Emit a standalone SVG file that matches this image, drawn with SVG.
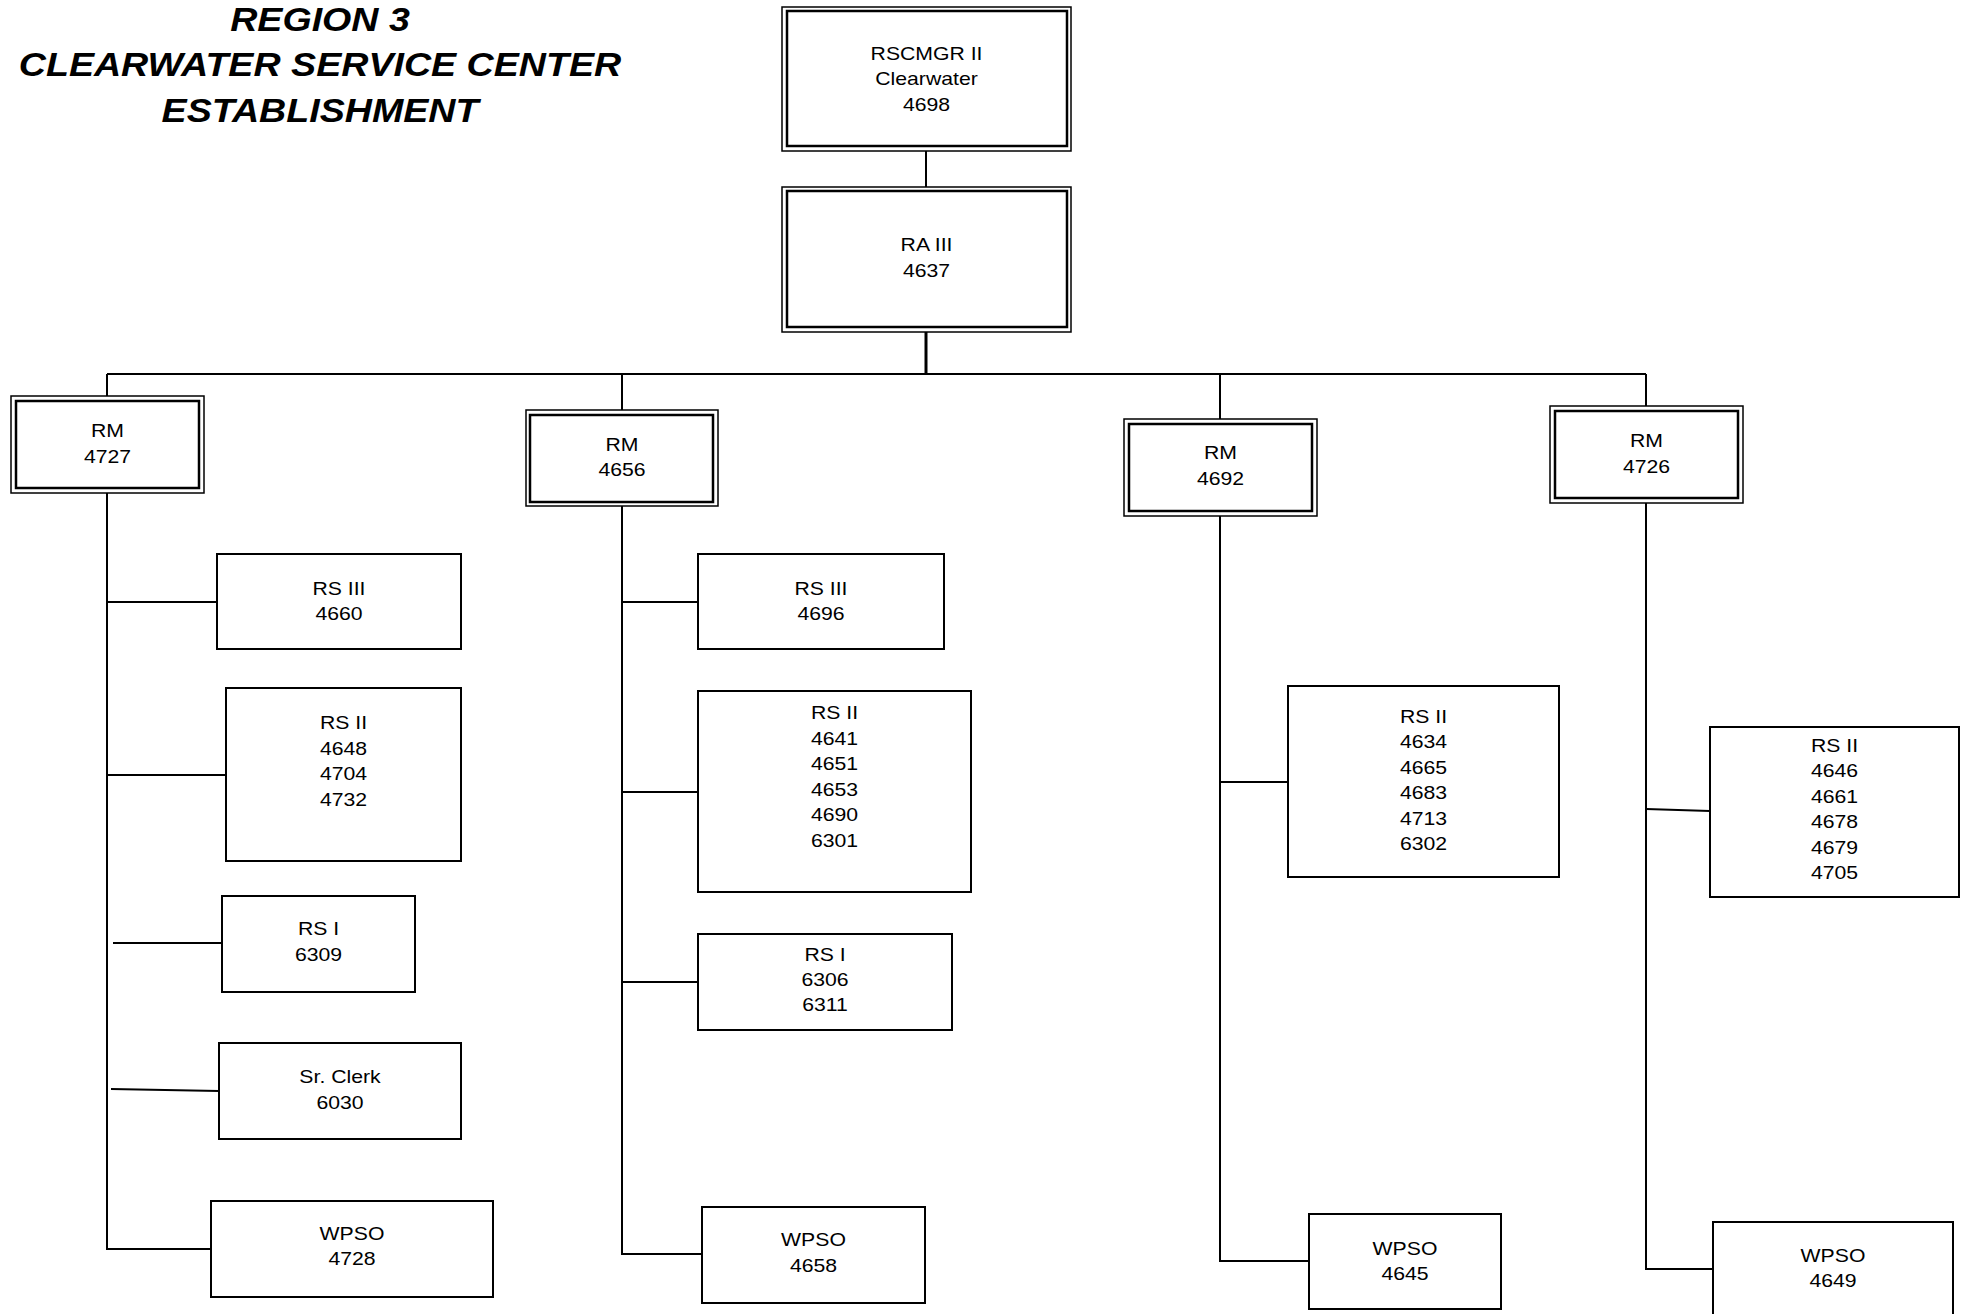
<svg xmlns="http://www.w3.org/2000/svg" width="1969" height="1314" viewBox="0 0 1969 1314">
  <style>
    .box { fill: #ffffff; stroke: #000000; stroke-width: 2; }
    .outer { fill: #ffffff; stroke: #000000; stroke-width: 1.5; }
    .inner { fill: none; stroke: #000000; stroke-width: 2.5; }
    .lbl { font-family: "Liberation Sans", Arial, sans-serif; font-size: 18.6px; fill: #000000; text-anchor: middle; }
    .title { font-family: "Liberation Sans", Arial, sans-serif; font-size: 33px; font-weight: bold; font-style: italic; fill: #000000; text-anchor: middle; }
    .conn { fill: none; stroke: #000000; stroke-width: 2; }
    .thick { stroke-width: 3; }
  </style>

  <rect width="1969" height="1314" fill="#ffffff"/>

  <!-- heading, slightly widened like the rest of the chart -->
  <g id="title" transform="translate(320 0) scale(1.14 1)">
    <text class="title" x="0" y="31">REGION 3</text>
    <text class="title" x="0" y="76">CLEARWATER SERVICE CENTER</text>
    <text class="title" x="0" y="122">ESTABLISHMENT</text>
  </g>

  <!-- reporting lines -->
  <g id="connectors">
    <line class="conn" x1="926" y1="151" x2="926" y2="187"/>
    <line class="conn thick" x1="926" y1="332" x2="926" y2="374"/>
    <line class="conn" x1="107" y1="374" x2="1646" y2="374"/>
    <line class="conn" x1="107" y1="374" x2="107" y2="396"/>
    <line class="conn" x1="622" y1="374" x2="622" y2="410"/>
    <line class="conn" x1="1220" y1="374" x2="1220" y2="419"/>
    <line class="conn" x1="1646" y1="374" x2="1646" y2="406"/>

    <!-- RM 4727 branch -->
    <polyline class="conn" points="107,493 107,1249 211,1249"/>
    <line class="conn" x1="107" y1="602" x2="217" y2="602"/>
    <line class="conn" x1="107" y1="775" x2="226" y2="775"/>
    <line class="conn" x1="113" y1="943" x2="222" y2="943"/>
    <line class="conn" x1="111" y1="1089" x2="219" y2="1091"/>

    <!-- RM 4656 branch -->
    <polyline class="conn" points="622,506 622,1254 702,1254"/>
    <line class="conn" x1="622" y1="602" x2="698" y2="602"/>
    <line class="conn" x1="622" y1="792" x2="698" y2="792"/>
    <line class="conn" x1="622" y1="982" x2="698" y2="982"/>

    <!-- RM 4692 branch -->
    <polyline class="conn" points="1220,516 1220,1261 1309,1261"/>
    <line class="conn" x1="1220" y1="782" x2="1288" y2="782"/>

    <!-- RM 4726 branch -->
    <polyline class="conn" points="1646,503 1646,1269 1713,1269"/>
    <line class="conn" x1="1646" y1="809" x2="1710" y2="811"/>
  </g>

  <!-- manager boxes (double border) -->
  <g id="rscmgr-4698">
    <rect class="outer" x="782" y="7" width="289" height="144"/>
    <rect class="inner" x="787" y="11" width="280" height="135"/>
    <g transform="translate(926.5 0) scale(1.14 1)">
      <text class="lbl" x="0" y="60">RSCMGR II</text>
      <text class="lbl" x="0" y="85.3">Clearwater</text>
      <text class="lbl" x="0" y="110.7">4698</text>
    </g>
  </g>

  <g id="ra-4637">
    <rect class="outer" x="782" y="187" width="289" height="145"/>
    <rect class="inner" x="787" y="191" width="280" height="136"/>
    <g transform="translate(926.5 0) scale(1.14 1)">
      <text class="lbl" x="0" y="251">RA III</text>
      <text class="lbl" x="0" y="277">4637</text>
    </g>
  </g>

  <g id="rm-4727">
    <rect class="outer" x="11" y="396" width="193" height="97"/>
    <rect class="inner" x="16" y="401" width="183" height="87"/>
    <g transform="translate(107.5 0) scale(1.14 1)">
      <text class="lbl" x="0" y="437">RM</text>
      <text class="lbl" x="0" y="463">4727</text>
    </g>
  </g>

  <g id="rm-4656">
    <rect class="outer" x="526" y="410" width="192" height="96"/>
    <rect class="inner" x="530" y="415" width="183" height="87"/>
    <g transform="translate(622 0) scale(1.14 1)">
      <text class="lbl" x="0" y="451">RM</text>
      <text class="lbl" x="0" y="476">4656</text>
    </g>
  </g>

  <g id="rm-4692">
    <rect class="outer" x="1124" y="419" width="193" height="97"/>
    <rect class="inner" x="1129" y="424" width="183" height="87"/>
    <g transform="translate(1220.5 0) scale(1.14 1)">
      <text class="lbl" x="0" y="459">RM</text>
      <text class="lbl" x="0" y="485">4692</text>
    </g>
  </g>

  <g id="rm-4726">
    <rect class="outer" x="1550" y="406" width="193" height="97"/>
    <rect class="inner" x="1555" y="411" width="183" height="87"/>
    <g transform="translate(1646.5 0) scale(1.14 1)">
      <text class="lbl" x="0" y="447">RM</text>
      <text class="lbl" x="0" y="473">4726</text>
    </g>
  </g>

  <!-- staff under RM 4727 -->
  <g id="rs3-4660">
    <rect class="box" x="217" y="554" width="244" height="95"/>
    <g transform="translate(339 0) scale(1.14 1)">
      <text class="lbl" x="0" y="595">RS III</text>
      <text class="lbl" x="0" y="620">4660</text>
    </g>
  </g>

  <g id="rs2-4648">
    <rect class="box" x="226" y="688" width="235" height="173"/>
    <g transform="translate(343.5 0) scale(1.14 1)">
      <text class="lbl" x="0" y="729">RS II</text>
      <text class="lbl" x="0" y="755">4648</text>
      <text class="lbl" x="0" y="780">4704</text>
      <text class="lbl" x="0" y="806">4732</text>
    </g>
  </g>

  <g id="rs1-6309">
    <rect class="box" x="222" y="896" width="193" height="96"/>
    <g transform="translate(318.5 0) scale(1.14 1)">
      <text class="lbl" x="0" y="935.5">RS I</text>
      <text class="lbl" x="0" y="961">6309</text>
    </g>
  </g>

  <g id="clerk-6030">
    <rect class="box" x="219" y="1043" width="242" height="96"/>
    <g transform="translate(340 0) scale(1.14 1)">
      <text class="lbl" x="0" y="1083">Sr. Clerk</text>
      <text class="lbl" x="0" y="1109.5">6030</text>
    </g>
  </g>

  <g id="wpso-4728">
    <rect class="box" x="211" y="1201" width="282" height="96"/>
    <g transform="translate(352 0) scale(1.14 1)">
      <text class="lbl" x="0" y="1240">WPSO</text>
      <text class="lbl" x="0" y="1265.5">4728</text>
    </g>
  </g>

  <!-- staff under RM 4656 -->
  <g id="rs3-4696">
    <rect class="box" x="698" y="554" width="246" height="95"/>
    <g transform="translate(821 0) scale(1.14 1)">
      <text class="lbl" x="0" y="595">RS III</text>
      <text class="lbl" x="0" y="620">4696</text>
    </g>
  </g>

  <g id="rs2-4641">
    <rect class="box" x="698" y="691" width="273" height="201"/>
    <g transform="translate(834.5 0) scale(1.14 1)">
      <text class="lbl" x="0" y="719.5">RS II</text>
      <text class="lbl" x="0" y="745">4641</text>
      <text class="lbl" x="0" y="770.5">4651</text>
      <text class="lbl" x="0" y="796">4653</text>
      <text class="lbl" x="0" y="821.5">4690</text>
      <text class="lbl" x="0" y="847">6301</text>
    </g>
  </g>

  <g id="rs1-6306">
    <rect class="box" x="698" y="934" width="254" height="96"/>
    <g transform="translate(825 0) scale(1.14 1)">
      <text class="lbl" x="0" y="961">RS I</text>
      <text class="lbl" x="0" y="986">6306</text>
      <text class="lbl" x="0" y="1011">6311</text>
    </g>
  </g>

  <g id="wpso-4658">
    <rect class="box" x="702" y="1207" width="223" height="96"/>
    <g transform="translate(813.5 0) scale(1.14 1)">
      <text class="lbl" x="0" y="1246">WPSO</text>
      <text class="lbl" x="0" y="1272">4658</text>
    </g>
  </g>

  <!-- staff under RM 4692 -->
  <g id="rs2-4634">
    <rect class="box" x="1288" y="686" width="271" height="191"/>
    <g transform="translate(1423.5 0) scale(1.14 1)">
      <text class="lbl" x="0" y="723">RS II</text>
      <text class="lbl" x="0" y="748.5">4634</text>
      <text class="lbl" x="0" y="774">4665</text>
      <text class="lbl" x="0" y="799.5">4683</text>
      <text class="lbl" x="0" y="825">4713</text>
      <text class="lbl" x="0" y="850.5">6302</text>
    </g>
  </g>

  <g id="wpso-4645">
    <rect class="box" x="1309" y="1214" width="192" height="95"/>
    <g transform="translate(1405 0) scale(1.14 1)">
      <text class="lbl" x="0" y="1255">WPSO</text>
      <text class="lbl" x="0" y="1280.5">4645</text>
    </g>
  </g>

  <!-- staff under RM 4726 -->
  <g id="rs2-4646">
    <rect class="box" x="1710" y="727" width="249" height="170"/>
    <g transform="translate(1834.5 0) scale(1.14 1)">
      <text class="lbl" x="0" y="752">RS II</text>
      <text class="lbl" x="0" y="777.5">4646</text>
      <text class="lbl" x="0" y="803">4661</text>
      <text class="lbl" x="0" y="828.5">4678</text>
      <text class="lbl" x="0" y="854">4679</text>
      <text class="lbl" x="0" y="879.5">4705</text>
    </g>
  </g>

  <g id="wpso-4649">
    <rect class="box" x="1713" y="1222" width="240" height="100"/>
    <g transform="translate(1833 0) scale(1.14 1)">
      <text class="lbl" x="0" y="1262">WPSO</text>
      <text class="lbl" x="0" y="1287.5">4649</text>
    </g>
  </g>
</svg>
